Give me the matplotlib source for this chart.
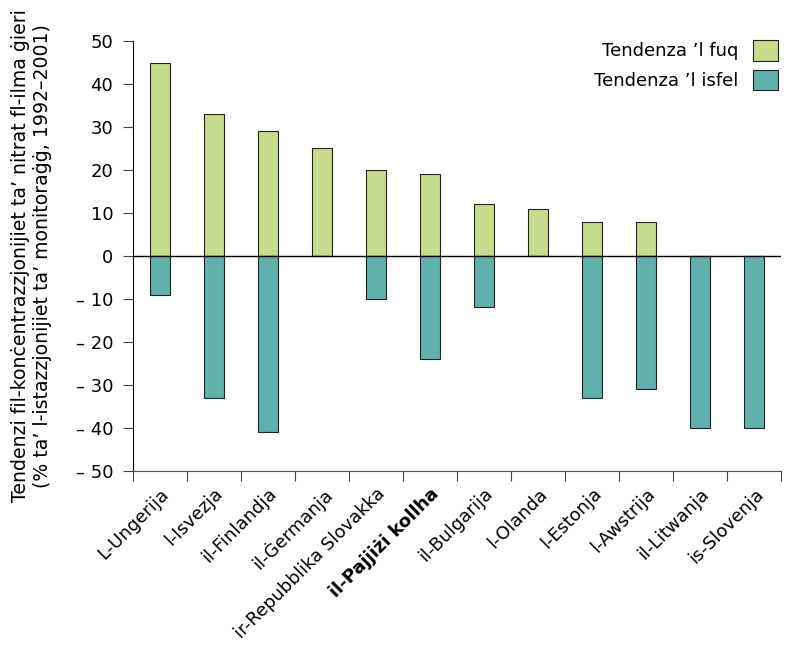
import matplotlib.pyplot as plt
import numpy as np

# data
countries = ["L-Ungerija", "l-Isvezja", "il-Finlandja", "il-Ġermanja",
             "ir-Repubblika Slovakka", "il-Pajjiżi kollha", "il-Bulgarija",
             "l-Olanda", "l-Estonja", "l-Awstrija", "il-Litwanja", "is-Slovenja"]
up_trend = [45, 33, 29, 25, 20, 19, 12, 11, 8, 8, 0, 0]
down_trend = [-9, -33, -41, 0, -10, -24, -12, 0, -33, -31, -40, -40]
yticks = [50, 40, 30, 20, 10, 0, -10, -20, -30, -40, -50]

col_up = "#c6dc8c"
col_down = "#62b0ac"
fs = 13

fig = plt.figure(figsize=(7.9, 6.52), dpi=100)
ax = fig.add_axes([0.168, 0.278, 0.821, 0.659])

x = np.arange(len(countries))
ax.bar(x, up_trend, width=0.37, color=col_up, edgecolor="#222222", linewidth=0.8,
       label="Tendenza \u2019l fuq")
ax.bar(x, down_trend, width=0.37, color=col_down, edgecolor="#222222", linewidth=0.8,
       label="Tendenza \u2019l isfel")
ax.axhline(0, color="black", linewidth=1)

ax.set_xlim(-0.5, len(countries) - 0.5)
ax.set_ylim(-50, 50)
ax.set_yticks(yticks)
ax.set_yticklabels([str(v) if v >= 0 else "\u2013 " + str(-v) for v in yticks], fontsize=fs)

# category boundary ticks on x axis
ax.set_xticks(np.arange(len(countries) + 1) - 0.5)
ax.set_xticklabels([])
ax.tick_params(axis="x", length=7, direction="out", color="#444444")
ax.set_xticks(x, minor=True)
ax.set_xticklabels(countries, minor=True, rotation=45, ha="right",
                   rotation_mode="anchor", fontsize=fs)
ax.tick_params(axis="x", which="minor", length=0, pad=10)
for lbl in ax.get_xticklabels(minor=True):
    if lbl.get_text() == "il-Pajjiżi kollha":
        lbl.set_fontweight("bold")
ax.tick_params(axis="y", length=7, color="#444444", pad=7)

ax.spines["top"].set_visible(False)
ax.spines["right"].set_visible(False)
ax.spines["bottom"].set_color("#3f5a5a")

ax.set_ylabel("Tendenzi fil-konċentrazzjonijiet ta\u2019 nitrat fl-ilma ġieri\n"
              "(% ta\u2019 l-istazzjonijiet ta\u2019 monitoraġġ, 1992\u20132001)",
              fontsize=13.6, labelpad=17)

ax.legend(loc="upper right", frameon=False, markerfirst=False, fontsize=fs,
          handlelength=1.4, handleheight=1.4, labelspacing=0.5,
          handletextpad=0.8, borderaxespad=0, bbox_to_anchor=(1.006, 1.02))

fig.savefig("out.png", dpi=100)
